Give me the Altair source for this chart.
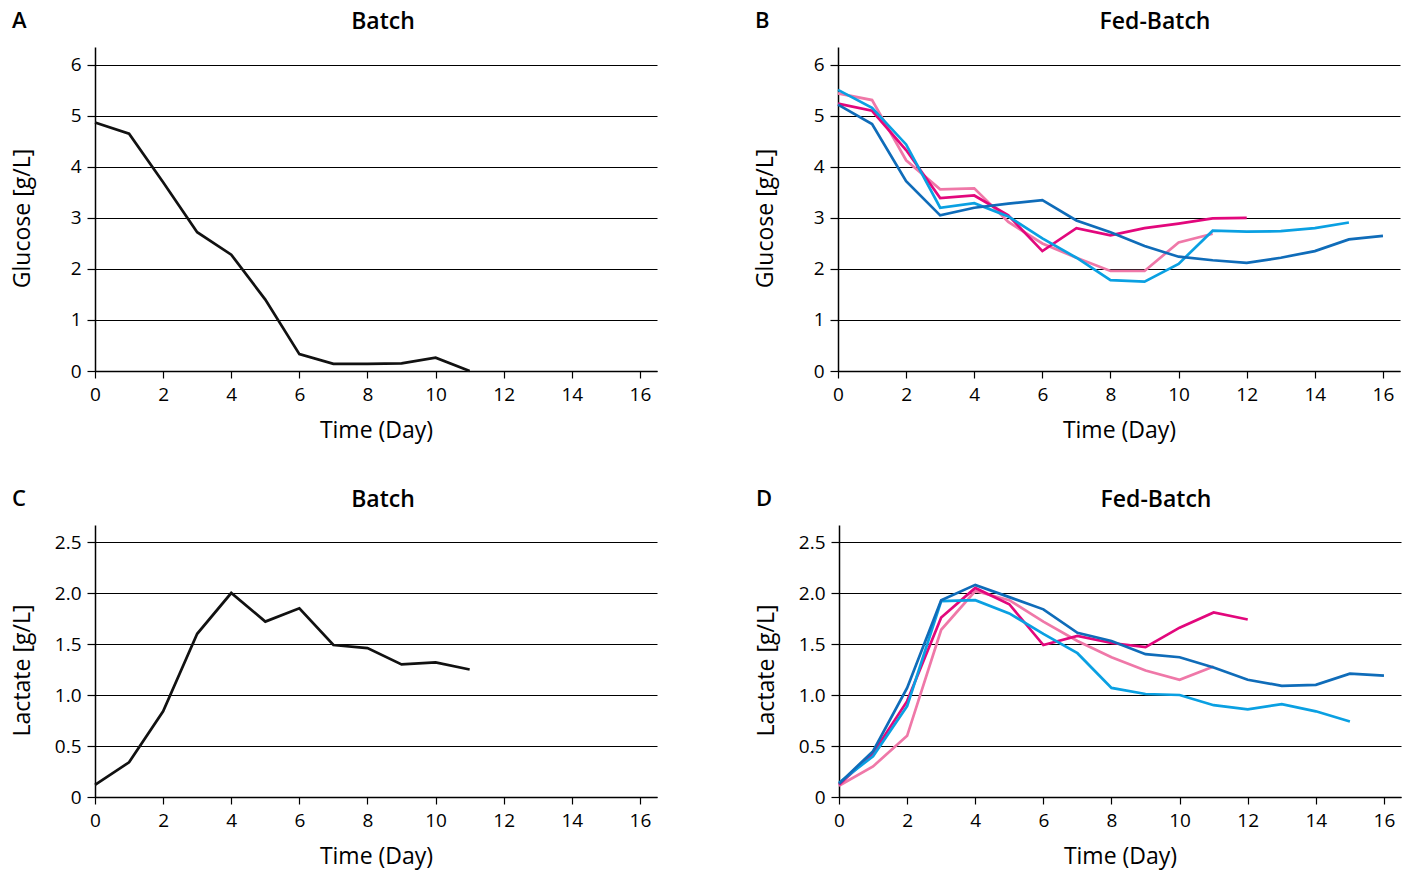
import altair as alt
import pandas as pd

FONT = "Open Sans"

# ---------------- data ----------------
batch_days = list(range(12))
batch_glucose = [4.87, 4.65, 3.70, 2.72, 2.28, 1.40, 0.33, 0.14, 0.14, 0.15, 0.26, 0.00]
batch_lactate = [0.12, 0.34, 0.84, 1.60, 2.00, 1.72, 1.85, 1.49, 1.46, 1.30, 1.32, 1.25]

# fed-batch runs (drawing order: pink, magenta, light blue, dark blue)
run_names = ["pink", "magenta", "lightblue", "darkblue"]
run_colors = ["#ef78a8", "#e2077c", "#0aa0e2", "#0f6cb9"]

fb_glucose = {
    "pink":      [5.44, 5.31, 4.13, 3.56, 3.58, 2.92, 2.50, 2.22, 1.96, 1.96, 2.52, 2.69],
    "magenta":   [5.24, 5.10, 4.33, 3.39, 3.44, 3.05, 2.35, 2.80, 2.66, 2.80, 2.89, 2.99, 3.00],
    "lightblue": [5.51, 5.16, 4.44, 3.20, 3.29, 3.03, 2.60, 2.22, 1.78, 1.75, 2.10, 2.75, 2.73, 2.74, 2.80, 2.91],
    "darkblue":  [5.22, 4.84, 3.72, 3.05, 3.20, 3.28, 3.35, 2.95, 2.72, 2.45, 2.24, 2.17, 2.12, 2.22, 2.35, 2.58, 2.65],
}
fb_lactate = {
    "pink":      [0.11, 0.30, 0.60, 1.64, 2.02, 1.93, 1.72, 1.53, 1.37, 1.24, 1.15, 1.28],
    "magenta":   [0.12, 0.43, 0.94, 1.76, 2.05, 1.89, 1.49, 1.58, 1.51, 1.47, 1.66, 1.81, 1.74],
    "lightblue": [0.14, 0.40, 0.89, 1.92, 1.93, 1.80, 1.60, 1.41, 1.07, 1.01, 1.00, 0.90, 0.86, 0.91, 0.84, 0.74],
    "darkblue":  [0.13, 0.45, 1.07, 1.93, 2.08, 1.96, 1.84, 1.61, 1.53, 1.40, 1.37, 1.27, 1.15, 1.09, 1.10, 1.21, 1.19],
}

x_ticks = list(range(0, 17, 2))
glucose_ticks = [0, 1, 2, 3, 4, 5, 6]
lactate_ticks = [0, 0.5, 1.0, 1.5, 2.0, 2.5]
panel_letters = ["A", "B", "C", "D"]
panel_titles = ["Batch", "Fed-Batch", "Batch", "Fed-Batch"]
x_title = "Time (Day)"
glucose_title = "Glucose [g/L]"
lactate_title = "Lactate [g/L]"

W = 562
H_TOP = 324
H_BOT = 272


def long_df(series):
    rows = []
    for i, name in enumerate(run_names):
        for d, v in enumerate(series[name]):
            rows.append({"day": d, "value": v, "run": f"{i}_{name}"})
    return pd.DataFrame(rows)


def panel(df, color_domain, color_range, ytitle, ytop, yticks, ylabel_expr,
          title, letter, title_dx, height):
    x = alt.X("day:Q",
              scale=alt.Scale(domain=[0, 16.5], nice=False, zero=False),
              axis=alt.Axis(values=x_ticks, title=x_title, grid=False,
                            format="d", labelFontSize=19, labelFont=FONT,
                            labelColor="black", labelPadding=7, labelFlush=False,
                            tickColor="black", tickSize=7, tickWidth=1.2,
                            domainColor="black", domainWidth=1.5,
                            titleFont=FONT, titleFontSize=23,
                            titleFontWeight="normal", titleColor="black",
                            titlePadding=15))
    y = alt.Y("value:Q",
              scale=alt.Scale(domain=[0, ytop], nice=False, zero=True),
              axis=alt.Axis(values=yticks, title=ytitle, grid=True,
                            gridColor="black", gridWidth=1.1, gridOpacity=1,
                            labelExpr=ylabel_expr, labelFontSize=19,
                            labelFont=FONT, labelColor="black", labelPadding=6,
                            labelFlush=False,
                            tickColor="black", tickSize=8, tickWidth=1.2,
                            domainColor="black", domainWidth=1.5,
                            titleFont=FONT, titleFontSize=23,
                            titleFontWeight="normal", titleColor="black",
                            titleX=-61, titleY=height / 2 + 9, titleAngle=-90))
    lines = alt.Chart(df).mark_line(strokeWidth=2.7, strokeJoin="miter").encode(
        x=x, y=y,
        color=alt.Color("run:N", scale=alt.Scale(domain=color_domain, range=color_range),
                        legend=None),
    )
    lab = alt.Chart(pd.DataFrame({"t": [letter]})).mark_text(
        align="left", baseline="middle", fontSize=22, font=FONT,
        fontWeight=600, color="black"
    ).encode(text="t:N", x=alt.value(-83), y=alt.value(-26))
    ttl = alt.Chart(pd.DataFrame({"t": [title]})).mark_text(
        align="center", baseline="middle", fontSize=23, font=FONT,
        fontWeight=600, color="black"
    ).encode(text="t:N", x=alt.value(W / 2 + title_dx), y=alt.value(-25))
    return alt.layer(lines, lab, ttl).properties(width=W, height=height)


batch_g = pd.DataFrame({"day": batch_days, "value": batch_glucose, "run": "batch"})
batch_l = pd.DataFrame({"day": batch_days, "value": batch_lactate, "run": "batch"})
fb_g = long_df(fb_glucose)
fb_l = long_df(fb_lactate)
fb_domain = [f"{i}_{n}" for i, n in enumerate(run_names)]

glab = "format(datum.value, 'd')"
llab = "datum.value == 0 ? '0' : format(datum.value, '.1f')"

pA = panel(batch_g, ["batch"], ["#111111"], glucose_title, 6.35, glucose_ticks, glab,
           panel_titles[0], panel_letters[0], 7, H_TOP)
pB = panel(fb_g, fb_domain, run_colors, glucose_title, 6.35, glucose_ticks, glab,
           panel_titles[1], panel_letters[1], 36, H_TOP)
pC = panel(batch_l, ["batch"], ["#111111"], lactate_title, 2.667, lactate_ticks, llab,
           panel_titles[2], panel_letters[2], 7, H_BOT)
pD = panel(fb_l, fb_domain, run_colors, lactate_title, 2.667, lactate_ticks, llab,
           panel_titles[3], panel_letters[3], 36, H_BOT)

chart = alt.vconcat(
    alt.hconcat(pA, pB, spacing=97).resolve_scale(color="independent"),
    alt.hconcat(pC, pD, spacing=97).resolve_scale(color="independent"),
    spacing=46,
).resolve_scale(color="independent").configure_view(stroke=None).properties(
    padding={"left": 10, "top": 10, "right": 5, "bottom": 5},
    background="white",
)

chart.save("out.html", embed_options={"renderer": "svg", "actions": False})
